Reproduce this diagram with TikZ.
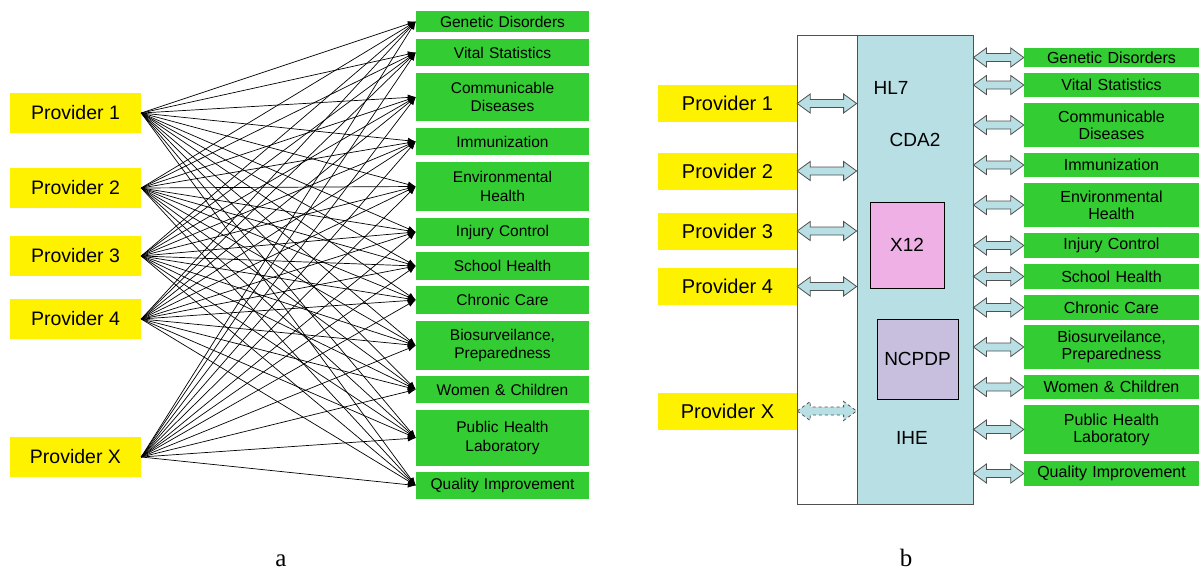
\documentclass[tikz,border=0pt]{standalone}
\usepackage{fontspec}
\setmainfont{Liberation Sans}
\newfontfamily\capfont{Liberation Serif}
\usetikzlibrary{arrows.meta, calc, positioning}
\definecolor{topicgreen}{HTML}{33CC33}
\definecolor{hubcyan}{HTML}{B8DFE3}
\definecolor{xpink}{HTML}{EFB0E5}
\definecolor{ncpurple}{HTML}{C7BFDD}
\definecolor{edgegray}{HTML}{505050}
\tikzset{
  prov/.style={fill=yellow, minimum width=131pt, minimum height=40pt, inner sep=0pt, font=\fontsize{19.5}{22}\selectfont},
  provb/.style={prov, minimum width=139pt, minimum height=37pt, font=\fontsize{20}{23}\selectfont},
  topic/.style={fill=topicgreen, text width=173pt, align=center, inner sep=0pt, font=\fontsize{15.5}{18.5}\selectfont},
  topicb/.style={topic, text width=175pt, font=\fontsize{16}{17}\selectfont},
  std/.style={font=\fontsize{19}{22}\selectfont},
  caption/.style={font=\capfont\fontsize{25}{27}\selectfont, anchor=base},
  link/.style={->, >={Latex[length=8pt,width=6pt]}, line width=0.7pt},
  pipe/.style={draw=edgegray, fill=hubcyan, line width=0.8pt,
    to path={let \p1=(\tikztostart), \p2=(\tikztotarget) in
      (\x1,\y1) -- (\x1+13pt,\y1+9.5pt) -- (\x1+13pt,\y1+4pt) -- (\x2-13pt,\y1+4pt)
      -- (\x2-13pt,\y1+9.5pt) -- (\x2,\y1) -- (\x2-13pt,\y1-9.5pt) -- (\x2-13pt,\y1-4pt)
      -- (\x1+13pt,\y1-4pt) -- (\x1+13pt,\y1-9.5pt) -- cycle}}
}

\begin{document}
\begin{tikzpicture}[x=1pt, y=-1pt]
  \useasboundingbox (0,0) rectangle (1199,571);

  % a: every provider talks to every program
  \node[prov] (pa1) at (75.5,113) {Provider 1};
  \node[prov] (pa2) at (75.5,188) {Provider 2};
  \node[prov] (pa3) at (75.5,256) {Provider 3};
  \node[prov] (pa4) at (75.5,319) {Provider 4};
  \node[prov] (pa5) at (75.5,457) {Provider X};

  \node[topic, minimum height=21pt] (ta1) at (502.5,21.5) {Genetic Disorders};
  \node[topic, minimum height=27pt] (ta2) at (502.5,52.5) {Vital Statistics};
  \node[topic, minimum height=48pt] (ta3) at (502.5,97) {Communicable\\Diseases};
  \node[topic, minimum height=27pt] (ta4) at (502.5,141.5) {Immunization};
  \node[topic, minimum height=49pt] (ta5) at (502.5,186.5) {Environmental\\Health};
  \node[topic, minimum height=28pt] (ta6) at (502.5,232) {Injury Control};
  \node[topic, minimum height=28pt] (ta7) at (502.5,266) {School Health};
  \node[topic, minimum height=28pt] (ta8) at (502.5,300) {Chronic Care};
  \node[topic, minimum height=49pt] (ta9) at (502.5,345.5) {Biosurveilance,\\Preparedness};
  \node[topic, minimum height=27pt] (ta10) at (502.5,389.5) {Women \& Children};
  \node[topic, minimum height=56pt] (ta11) at (502.5,438) {Public Health\\Laboratory};
  \node[topic, minimum height=27pt] (ta12) at (502.5,485.5) {Quality Improvement};

  \foreach \k in {1,...,5}
    \foreach \t in {1,...,12}
      \draw[link] (pa\k.east) -- (ta\t.west);

  \node[caption] (capa) at (281,566) {a};

  % b: providers and programs meet through the standards hub
  \node[draw=edgegray, fill=white, line width=0.8pt, minimum width=60pt, minimum height=469pt, inner sep=0pt] (gate) at (827,269.5) {};
  \node[draw=edgegray, fill=hubcyan, line width=0.8pt, minimum width=116pt, minimum height=469pt, inner sep=0pt] (hub) at (915,269.5) {};
  \node[std] (hl7) at (891,88) {HL7};
  \node[std] (cda) at (915,140) {CDA2};
  \node[std, draw, fill=xpink, minimum width=74pt, minimum height=86pt, inner sep=0pt] (x12) at (907,245) {X12};
  \node[std, draw, fill=ncpurple, minimum width=81pt, minimum height=80pt, inner sep=0pt] (ncpdp) at (917.5,359) {NCPDP};
  \node[std] (ihe) at (912,438) {IHE};

  \node[provb] (pb1) at (727.5,103.5) {Provider 1};
  \node[provb] (pb2) at (727.5,171) {Provider 2};
  \node[provb] (pb3) at (727.5,231) {Provider 3};
  \node[provb] (pb4) at (727.5,286.5) {Provider 4};
  \node[provb] (pb5) at (727.5,411) {Provider X};

  \node[topicb, minimum height=19pt] (tb1) at (1111.5,57.5) {Genetic Disorders};
  \node[topicb, minimum height=24pt] (tb2) at (1111.5,85) {Vital Statistics};
  \node[topicb, minimum height=44pt] (tb3) at (1111.5,125) {Communicable\\Diseases};
  \node[topicb, minimum height=24pt] (tb4) at (1111.5,165) {Immunization};
  \node[topicb, minimum height=44pt] (tb5) at (1111.5,205) {Environmental\\Health};
  \node[topicb, minimum height=25pt] (tb6) at (1111.5,245.5) {Injury Control};
  \node[topicb, minimum height=25pt] (tb7) at (1111.5,276.5) {School Health};
  \node[topicb, minimum height=25pt] (tb8) at (1111.5,307.5) {Chronic Care};
  \node[topicb, minimum height=44pt] (tb9) at (1111.5,347) {Biosurveilance,\\Preparedness};
  \node[topicb, minimum height=24pt] (tb10) at (1111.5,387) {Women \& Children};
  \node[topicb, minimum height=49pt] (tb11) at (1111.5,429.5) {Public Health\\Laboratory};
  \node[topicb, minimum height=25pt] (tb12) at (1111.5,473.5) {Quality Improvement};

  \foreach \k in {1,...,4}
    \draw[pipe] (pb\k.east) to (hub.west |- pb\k.east);
  \draw[pipe, dashed] (pb5.east) to (hub.west |- pb5.east);
  \foreach \t in {1,...,12}
    \draw[pipe] (hub.east |- tb\t.west) to (tb\t.west);

  \node[caption] (capb) at (906,566) {b};
\end{tikzpicture}
\end{document}
